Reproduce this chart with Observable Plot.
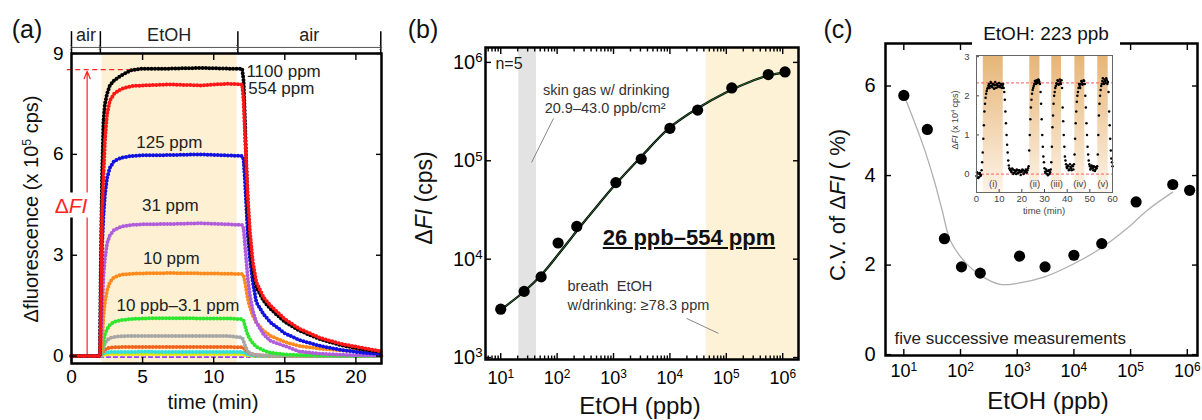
<!DOCTYPE html>
<html><head><meta charset="utf-8">
<script src="https://cdn.jsdelivr.net/npm/d3@7"></script>
<script src="https://cdn.jsdelivr.net/npm/@observablehq/plot@0.6"></script>
<style>
body{margin:0;background:#fff;font-family:"Liberation Sans",Arial,Helvetica,sans-serif;}
#root{position:relative;width:1202px;height:420px;overflow:hidden;background:#fff;}
.p{position:absolute;}
.p svg{overflow:visible;display:block;}
.t{position:absolute;white-space:nowrap;color:#111;line-height:1;transform:translate(-50%,-50%);}
.r{transform:translate(-50%,-50%) rotate(-90deg);}
.sup{font-size:0.62em;position:relative;top:-0.55em;}
</style></head><body><div id="root"></div>
<script>
// ---------------- DATA ----------------
// Panel (a): time course, Δfluorescence (x10^5 cps)
const timeA = [0, 1, 2, 2.05, 2.15, 2.25, 2.35, 2.5, 2.7, 3, 3.5, 4.2, 5, 7, 9, 11, 12, 12.1, 12.2, 12.3, 12.4, 12.55, 12.75, 13, 13.5, 14, 15, 16, 17.5, 19, 20.5, 21.8];
const a1100 = [0, 0, 0, 2.4, 5.4, 7.0, 7.5, 7.8, 8.05, 8.2, 8.35, 8.5, 8.55, 8.55, 8.57, 8.55, 8.55, 8.2, 7.0, 5.6, 4.4, 3.3, 2.55, 2.05, 1.65, 1.4, 1.02, 0.76, 0.5, 0.32, 0.2, 0.12];
const a554 = [0, 0, 0, 1.0, 4.25, 5.4, 6.4, 7.2, 7.6, 7.8, 7.95, 8.03, 8.05, 8.08, 8.05, 8.1, 8.08, 7.6, 6.6, 5.6, 4.7, 3.7, 2.8, 2.2, 1.75, 1.5, 1.1, 0.82, 0.54, 0.36, 0.24, 0.14];
const a125 = [0, 0, 0, 1.2, 3.3, 4.2, 4.8, 5.3, 5.6, 5.8, 5.9, 5.95, 5.97, 5.98, 6.0, 5.97, 5.95, 5.85, 5.2, 4.4, 3.6, 2.9, 2.2, 1.6, 1.25, 1.0, 0.68, 0.48, 0.3, 0.18, 0.1, 0.06];
const a31 = [0, 0, 0, 0.5, 1.45, 2.4, 2.9, 3.35, 3.6, 3.75, 3.85, 3.9, 3.92, 3.93, 3.95, 3.92, 3.9, 3.8, 3.3, 2.8, 2.3, 1.8, 1.35, 1.0, 0.65, 0.45, 0.3, 0.14, 0.07, 0.04, 0.02, 0.01];
const a10 = [0, 0, 0, 0.1, 0.5, 1.2, 1.6, 1.95, 2.2, 2.35, 2.42, 2.45, 2.46, 2.47, 2.46, 2.45, 2.44, 2.4, 2.2, 1.95, 1.7, 1.45, 1.2, 1.0, 0.75, 0.6, 0.42, 0.3, 0.22, 0.17, 0.15, 0.15];
const a3p1 = [0, 0, 0, 0.05, 0.2, 0.45, 0.65, 0.8, 0.93, 1.02, 1.07, 1.1, 1.12, 1.13, 1.12, 1.12, 1.1, 1.05, 0.9, 0.75, 0.62, 0.5, 0.38, 0.28, 0.17, 0.1, 0.05, 0.03, 0.02, 0.01, 0, 0];
const a1p0 = [0, 0, 0, 0.02, 0.1, 0.25, 0.38, 0.48, 0.54, 0.57, 0.59, 0.6, 0.6, 0.6, 0.6, 0.6, 0.55, 0.45, 0.32, 0.22, 0.14, 0.08, 0.05, 0.03, 0.02, 0.01, 0, 0, 0, 0, 0, 0];
const a0p3 = [0, 0, 0, 0.02, 0.08, 0.15, 0.2, 0.23, 0.25, 0.26, 0.27, 0.27, 0.27, 0.27, 0.27, 0.27, 0.26, 0.24, 0.2, 0.15, 0.11, 0.08, 0.05, 0.03, 0.02, 0.01, 0, 0, 0, 0, 0, 0];
const a0p1 = [0, 0, 0, 0.01, 0.04, 0.08, 0.1, 0.11, 0.12, 0.12, 0.12, 0.12, 0.13, 0.12, 0.12, 0.12, 0.12, 0.11, 0.09, 0.07, 0.05, 0.03, 0.02, 0.01, 0, 0, 0, 0, 0, 0, 0, 0];
const a0p05 = [0, 0, 0, 0, 0.02, 0.04, 0.05, 0.06, 0.06, 0.06, 0.06, 0.06, 0.06, 0.06, 0.06, 0.06, 0.06, 0.05, 0.04, 0.03, 0.02, 0.01, 0.01, 0, 0, 0, 0, 0, 0, 0, 0, 0];
const a0p01 = [-0.03, -0.03, -0.03, -0.03, -0.03, -0.03, -0.03, -0.03, -0.03, -0.03, -0.03, -0.03, -0.03, -0.03, -0.03, -0.03, -0.03, -0.03, -0.03, -0.03, -0.03, -0.03, -0.03, -0.03, -0.03, -0.03, -0.03, -0.03, -0.03, -0.03, -0.03, -0.03];
const phaseNames = ["air", "EtOH", "air"];
const phaseEdges = [0, 2.03, 11.7, 21.75];
const exposure = {start: 2.15, end: 11.65};
const ticksA_x = [0, 5, 10, 15, 20];
const ticksA_y = [0, 3, 6, 9];

// Panel (b) & (c): concentration (ppb)
const concPpb = [10, 26, 52, 104, 223, 1100, 3100, 10000, 31000, 125000, 554000, 1100000];
const deltaFI = [3100, 4700, 6600, 14600, 21500, 60000, 104000, 214000, 327000, 550000, 752000, 800000];
const fitX = [10, 26, 52, 115, 260, 430, 1085, 3090, 10000, 30600, 96600, 307000, 554000, 1050000];
const fitY = [3050, 4690, 6870, 11970, 21600, 30700, 57600, 110000, 218000, 340000, 492000, 658000, 736000, 794000];
const skinBand = {lo: 20.9, hi: 43.0};
const breathBand = {lo: 44000, hi: 1.9e6};
const cvPct = [5.79, 5.03, 2.59, 1.96, 1.82, 2.2, 1.96, 2.22, 2.48, 3.41, 3.8, 3.67];
const cvFitX = [10.5, 22.4, 35, 47.5, 66, 114, 225, 500, 1000, 2950, 10000, 29500, 87000, 195000, 550000];
const cvFitY = [5.74, 4.64, 3.85, 3.22, 2.55, 2.1, 1.77, 1.57, 1.59, 1.73, 2.03, 2.37, 2.82, 3.22, 3.63];
const decadeTicks = [10, 100, 1000, 10000, 100000, 1000000];
const ticksB_y = [1000, 10000, 100000, 1000000];
const ticksC_y = [0, 2, 4, 6];

// Inset: 223 ppb, five successive measurements (x10^4 cps)
// two interleaved sets of sampled dots: at t = i*0.5 and at t = 0.25 + i*0.5 (min)
const insetStep = 0.5;
const insetValues = [
 -0.05, 0.02, -0.08, 0.03, -0.02, 0.3, 0.9, 1.6, 1.95, 2.12,
 2.2, 2.3, 2.25, 2.32, 2.22, 2.3, 2.27, 2.2, 2.3, 2.25,
 2.33, 2.22, 2.28, 2.25, 2.2, 1.9, 1.3, 0.75, 0.35, 0.15,
 0.1, 0.05, 0.12, 0.03, 0.08, 0.0, 0.1, 0.04, 0.09, -0.02,
 0.06, 0.1, 0.02, 0.08, 0.05, 0.1, 0.2, 1.0, 1.7, 2.05,
 2.2, 2.3, 2.35, 2.4, 2.33, 2.4, 2.3, 1.8, 1.0, 0.45,
 0.15, 0.02, 0.08, -0.03, 0.1, 0.05, 0.3, 1.2, 1.8, 2.1,
 2.25, 2.3, 2.38, 2.3, 2.35, 2.4, 1.7, 1.0, 0.45, 0.25,
 0.15, 0.2, 0.12, 0.18, 0.1, 0.2, 0.25, 0.9, 1.6, 2.0,
 2.2, 2.25, 2.3, 2.35, 2.3, 2.38, 2.0, 1.3, 0.7, 0.35,
 0.2, 0.15, 0.2, 0.1, 0.18, 0.12, 0.15, 0.5, 1.5, 2.0,
 2.25, 2.38, 2.35, 2.42, 2.33, 2.4, 2.35, 1.6, 0.9, 0.4,
 0.2];
const insetValuesMid = [
 0.05, -0.1, 0.0, -0.05, 0.1, 0.55, 1.25, 1.8, 2.05, 2.18,
 2.26, 2.2, 2.35, 2.25, 2.3, 2.18, 2.35, 2.28, 2.22, 2.32,
 2.25, 2.3, 2.2, 2.3, 2.1, 1.6, 1.0, 0.55, 0.22, 0.12,
 0.08, 0.14, 0.0, 0.1, 0.06, 0.12, 0.02, 0.1, 0.05, 0.08,
 0.12, 0.0, 0.07, 0.12, 0.04, 0.15, 0.6, 1.4, 1.9, 2.15,
 2.25, 2.38, 2.3, 2.36, 2.42, 2.35, 2.1, 1.4, 0.7, 0.3,
 0.06, 0.12, 0.0, 0.08, 0.0, 0.12, 0.7, 1.5, 2.0, 2.2,
 2.32, 2.4, 2.28, 2.42, 2.3, 2.2, 1.35, 0.7, 0.35, 0.18,
 0.22, 0.1, 0.25, 0.15, 0.22, 0.12, 0.5, 1.3, 1.85, 2.1,
 2.3, 2.2, 2.38, 2.28, 2.4, 2.3, 1.7, 1.0, 0.5, 0.25,
 0.12, 0.22, 0.15, 0.2, 0.08, 0.18, 0.2, 1.0, 1.8, 2.15,
 2.3, 2.45, 2.3, 2.38, 2.45, 2.3, 2.1, 1.25, 0.6, 0.3];
const insetBandStart = [3.0, 23.5, 33.2, 43.4, 53.5];
const insetBandEnd = [11.8, 28.0, 37.5, 47.8, 58.1];
const insetBandLabel = ["(i)", "(ii)", "(iii)", "(iv)", "(v)"];
const insetLevels = [2.33, 0];
const insetTicksX = [0, 10, 20, 30, 40, 50, 60];
const insetTicksY = [0, 1, 2, 3];

// ---------------- RENDER ----------------
const root = document.getElementById("root");
const FONT = '"Liberation Sans", Arial, Helvetica, sans-serif';
const fmtPow = d => "10^" + Math.round(Math.log10(d));
const fmtInt = d => String(d);
const styleP = {fontFamily: FONT, overflow: "visible", background: "transparent", color: "#000"};

function place(svg, left, top) {
  const d = document.createElement("div");
  d.className = "p"; d.style.left = left + "px"; d.style.top = top + "px";
  d.appendChild(svg); root.appendChild(d);
}
function label(html, x, y, css = "", cls = "t") {
  const s = document.createElement("div");
  s.className = cls; s.innerHTML = html;
  s.style.cssText = `left:${x}px;top:${y}px;` + css;
  root.appendChild(s); return s;
}
function supify(svg) {
  svg.querySelectorAll("text").forEach(t => {
    const m = /^10\^(\d)$/.exec(t.textContent);
    if (m) t.innerHTML = `10<tspan dy="-0.5em" font-size="0.66em">${m[1]}</tspan>`;
  });
}
const axX = (anchor, ticks, o = {}) => Plot.axisX({anchor, ticks, label: null, tickSize: -6, strokeWidth: 1.4, ...o});
const axY = (anchor, ticks, o = {}) => Plot.axisY({anchor, ticks, label: null, tickSize: -6, strokeWidth: 1.4, ...o});

// ----- Panel (a)
const seriesA = [
  {v: a0p01, c: "#9a3cf0", dash: "4 3", w: 1.6},
  {v: a0p05, c: "#e4e400"},
  {v: a0p1, c: "#33dede"},
  {v: a0p3, c: "#f0651c"},
  {v: a1p0, c: "#a6a6a6"},
  {v: a3p1, c: "#2ee62e"},
  {v: a10, c: "#ff8a1c"},
  {v: a31, c: "#b05ddc"},
  {v: a125, c: "#1212e0"},
  {v: a1100, c: "#000000"},
  {v: a554, c: "#ff1616"}
];
const phases = phaseNames.map((name, i) => ({name, start: phaseEdges[i], end: phaseEdges[i + 1]}));
const red = "#ff2424";
const plotA = Plot.plot({
  width: 400, height: 420, marginLeft: 71, marginRight: 19, marginTop: 53, marginBottom: 57,
  x: {domain: [0, 21.8]}, y: {domain: [-0.22, 9]},
  style: styleP,
  marks: [
    Plot.rect([exposure], {x1: "start", x2: "end", fill: "#fdf0d3"}),
    Plot.ruleY([8.52], {x1: -0.3, x2: 4.3, stroke: red, strokeWidth: 1.2, strokeDasharray: "5 3.5"}),
    Plot.arrow([0], {x1: 1.1, y1: 0, x2: 1.1, y2: 8.47, stroke: red, strokeWidth: 1.2, headLength: 10, headAngle: 45}),
    ...seriesA.map(s => Plot.line(timeA.map((t, i) => [t, s.v[i]]), {
      stroke: s.c, strokeWidth: s.w || 4, strokeLinecap: "round",
      strokeDasharray: s.dash || "0 3.4"
    })),
    Plot.text(["1100 ppm"], {x: 12.3, y: 8.47, textAnchor: "start", fontSize: 17, fill: "#222"}),
    Plot.text(["554 ppm"], {x: 12.43, y: 7.95, textAnchor: "start", fontSize: 17, fill: "#222"}),
    Plot.text(["125 ppm"], {x: 6.88, y: 6.34, fontSize: 17, fill: "#222"}),
    Plot.text(["31 ppm"], {x: 6.95, y: 4.47, fontSize: 17, fill: "#222"}),
    Plot.text(["10 ppm"], {x: 7.02, y: 2.9, fontSize: 17, fill: "#222"}),
    Plot.text(["10 ppb–3.1 ppm"], {x: 7.48, y: 1.5, fontSize: 17, fill: "#222"}),
    Plot.ruleX(phaseEdges, {y1: 9, y2: 9.65, strokeWidth: 1.5}),
    Plot.link(phases, {x1: "start", x2: "end", y1: 9.18, y2: 9.18, markerStart: "arrow", markerEnd: "arrow", stroke: "#444", strokeWidth: 0.9}),
    Plot.text(phases, {x: d => (d.start + d.end) / 2, y: 9.535, text: "name", fontSize: 18, fill: "#222"}),
    axX("bottom", ticksA_x, {tickPadding: 12, fontSize: 19, tickFormat: fmtInt}),
    axX("top", ticksA_x.slice(1), {fill: "none"}),
    axY("left", ticksA_y, {tickPadding: 14, fontSize: 19, tickFormat: fmtInt}),
    axY("right", ticksA_y, {fill: "none"}),
    Plot.frame({strokeWidth: 2.5})
  ]
});
place(plotA, 0, 0);

// ----- Panel (b)
const minorB = [0, 1, 2, 3, 4, 5, 6].flatMap(k => [2, 3, 4, 5, 6, 7, 8, 9].map(m => m * 10 ** k)).filter(v => v > 5.4 && v < 1.9e6);
const plotB = Plot.plot({
  width: 400, height: 420, marginLeft: 85, marginRight: 2, marginTop: 47, marginBottom: 61,
  x: {type: "log", domain: [10 ** 0.73, 10 ** 6.28]},
  y: {type: "log", domain: [10 ** 2.98, 10 ** 6.1515]},
  style: styleP,
  marks: [
    Plot.rect([skinBand], {x1: "lo", x2: "hi", fill: "#e3e3e3"}),
    Plot.rect([breathBand], {x1: "lo", x2: "hi", fill: "#fdf1d6"}),
    Plot.link([0], {x1: 86, y1: 269000, x2: 35.2, y2: 96100, stroke: "#888", strokeWidth: 1}),
    Plot.link([0], {x1: 19700, y1: 2500, x2: 72600, y2: 1760, stroke: "#888", strokeWidth: 1}),
    Plot.line(fitX.map((x, i) => [x, fitY[i]]), {curve: "catmull-rom", stroke: "#000", strokeWidth: 2.3}),
    Plot.line(fitX.map((x, i) => [x, fitY[i]]), {curve: "catmull-rom", stroke: "#2f7a32", strokeWidth: 0.9}),
    Plot.dot(concPpb.map((c, i) => [c, deltaFI[i]]), {r: 5.6, fill: "#000"}),
    Plot.text(["n=5"], {x: 8.07, y: 975000, textAnchor: "start", fontSize: 16, fill: "#222"}),
    Plot.text(["skin gas w/ drinking"], {x: 745, y: 518000, fontSize: 14.5, fill: "#333"}),
    Plot.text(["20.9–43.0 ppb/cm²"], {x: 711, y: 340000, fontSize: 14.5, fill: "#333"}),
    Plot.text(["breath  EtOH"], {x: 153, y: 5290, textAnchor: "start", fontSize: 14.5, fill: "#333"}),
    Plot.text(["w/drinking: ≥78.3 ppm"], {x: 153, y: 3390, textAnchor: "start", fontSize: 14.5, fill: "#333"}),
    axX("bottom", decadeTicks, {tickPadding: 18, fontSize: 18, tickFormat: fmtPow}),
    axX("bottom", minorB, {tickSize: -3.5, fill: "none"}),
    axX("top", decadeTicks, {fill: "none"}),
    axX("top", minorB, {tickSize: -3.5, fill: "none"}),
    axY("left", ticksB_y, {tickPadding: 9, fontSize: 20, tickFormat: fmtPow}),
    axY("right", ticksB_y, {fill: "none"}),
    Plot.frame({strokeWidth: 2.5})
  ]
});
supify(plotB);
place(plotB, 400, 0);

// ----- Panel (c)
const plotC = Plot.plot({
  width: 402, height: 420, marginLeft: 85, marginRight: 5, marginTop: 43, marginBottom: 65,
  x: {type: "log", domain: [10 ** 0.677, 10 ** 6.18]},
  y: {domain: [-0.02, 6.95]},
  style: styleP,
  marks: [
    Plot.line(cvFitX.map((x, i) => [x, cvFitY[i]]), {curve: "catmull-rom", stroke: "#b0b0b0", strokeWidth: 1.3}),
    Plot.dot(concPpb.map((c, i) => [c, cvPct[i]]), {r: 5.6, fill: "#000"}),
    Plot.text(["five successive measurements"], {x: 6.85, y: 0.36, textAnchor: "start", fontSize: 17, fill: "#222"}),
    axX("bottom", decadeTicks, {tickPadding: 15, fontSize: 18, tickFormat: fmtPow}),
    axX("top", decadeTicks, {fill: "none"}),
    axY("left", ticksC_y, {tickPadding: 16, fontSize: 20, tickFormat: fmtInt}),
    axY("right", ticksC_y, {fill: "none"}),
    Plot.frame({strokeWidth: 2.5})
  ]
});
supify(plotC);
place(plotC, 800, 0);

// ----- Inset
const insetBands = insetBandStart.map((s, i) => ({start: s, end: insetBandEnd[i], label: insetBandLabel[i]}));
const insetDots = [
  ...insetValues.map((v, i) => [i * insetStep, v]),
  ...insetValuesMid.map((v, i) => [insetStep / 2 + i * insetStep, v])
];
const defsMark = () => {
  const g = document.createElementNS("http://www.w3.org/2000/svg", "defs");
  g.innerHTML = '<linearGradient id="insetGrad" x1="0" y1="0" x2="0" y2="1"><stop offset="0" stop-color="#e6b577"/><stop offset="1" stop-color="#fdf3e7"/></linearGradient>';
  return g;
};
const plotI = Plot.plot({
  width: 180, height: 180, marginLeft: 36, marginRight: 8, marginTop: 10, marginBottom: 33,
  x: {domain: [0, 60]}, y: {domain: [-0.47, 3.03]},
  style: styleP,
  marks: [
    defsMark,
    Plot.rect(insetBands, {x1: "start", x2: "end", fill: "url(#insetGrad)"}),
    Plot.ruleY(insetLevels, {stroke: "#ff5a5a", strokeWidth: 1, strokeDasharray: "3 2"}),
    Plot.dot(insetDots, {r: 1.25, fill: "#000"}),
    Plot.text(insetBands, {x: d => (d.start + d.end) / 2, y: -0.26, text: "label", fontSize: 9.5, fill: "#444"}),
    Plot.axisX({anchor: "bottom", ticks: insetTicksX, label: null, tickSize: -3, tickPadding: 6, fontSize: 9.5, color: "#444", tickFormat: fmtInt}),
    Plot.axisY({anchor: "left", ticks: insetTicksY, label: null, tickSize: -3, tickPadding: 10, fontSize: 9.5, color: "#444", tickFormat: fmtInt}),
    Plot.frame({stroke: "#666", strokeWidth: 1})
  ]
});
place(plotI, 940, 45);

// ----- Text overlays
label("(a)", 27, 29, "font-size:25px;");
label("(b)", 423, 29, "font-size:25px;");
label("(c)", 838, 29, "font-size:25px;");
label('Δfluorescence (x 10<span class="sup">5</span> cps)', 31, 209, "font-size:20px;", "t r");
label("time (min)", 213, 402, "font-size:20.5px;");
label('Δ<i>FI</i>', 71, 205, "font-size:21px;color:#ff2424;background:#fff;padding:2px 2px;");
label('Δ<i>FI</i> (cps)', 424, 198, "font-size:23px;", "t r");
label("EtOH (ppb)", 640, 406, "font-size:24px;");
label('<u>26 ppb–554 ppm</u>', 689, 238, "font-size:22px;font-weight:bold;");
label('C.V. of Δ<i>FI</i> ( %)', 838, 205, "font-size:22px;", "t r");
label("EtOH (ppb)", 1048, 401, "font-size:24px;");
label("", 1046, 44, "width:148px;height:14px;background:#fff;");
label("EtOH: 223 ppb", 1046, 33, "font-size:19px;");
label('Δ<i>FI</i> (x 10<span class="sup">4</span> cps)', 955, 120, "font-size:9px;color:#444;", "t r");
label("time (min)", 1044, 211, "font-size:9.5px;color:#444;");
</script></body></html>
